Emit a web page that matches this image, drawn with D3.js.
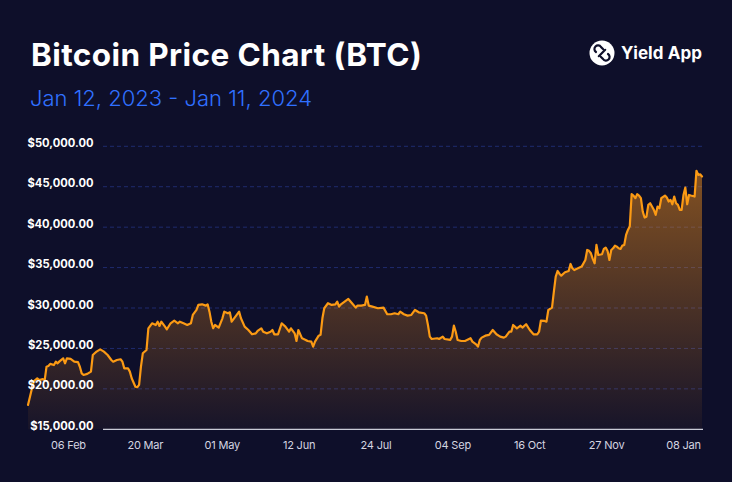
<!DOCTYPE html>
<html>
<head>
<meta charset="utf-8">
<script src="https://cdn.jsdelivr.net/npm/d3@7"></script>
<style>
  html, body { margin: 0; padding: 0; background: #0e0f2a; }
  svg { display: block; }
</style>
</head>
<body>
<div id="chart"></div>
<script>
const dates = [
  "2023-01-12","2023-01-15","2023-01-17","2023-01-18","2023-01-20","2023-01-21","2023-01-22","2023-01-23","2023-01-24","2023-01-26",
  "2023-01-27","2023-01-28","2023-01-29","2023-01-31","2023-02-01","2023-02-02","2023-02-04","2023-02-06","2023-02-08","2023-02-09",
  "2023-02-10","2023-02-11","2023-02-13","2023-02-15","2023-02-16","2023-02-17","2023-02-18","2023-02-20","2023-02-22","2023-02-24",
  "2023-02-26","2023-02-27","2023-03-01","2023-03-03","2023-03-04","2023-03-05","2023-03-07","2023-03-08","2023-03-09","2023-03-11",
  "2023-03-12","2023-03-13","2023-03-14","2023-03-15","2023-03-17","2023-03-18","2023-03-20","2023-03-22","2023-03-23","2023-03-24",
  "2023-03-25","2023-03-27","2023-03-28","2023-03-30","2023-04-01","2023-04-03","2023-04-04","2023-04-06","2023-04-08","2023-04-10",
  "2023-04-11","2023-04-13","2023-04-14","2023-04-16","2023-04-18","2023-04-19","2023-04-20","2023-04-21","2023-04-22","2023-04-23",
  "2023-04-25","2023-04-27","2023-04-28","2023-04-30","2023-05-01","2023-05-02","2023-05-04","2023-05-06","2023-05-07","2023-05-09",
  "2023-05-11","2023-05-13","2023-05-15","2023-05-16","2023-05-18","2023-05-19","2023-05-21","2023-05-23","2023-05-24","2023-05-25",
  "2023-05-27","2023-05-29","2023-05-31","2023-06-02","2023-06-03","2023-06-05","2023-06-06","2023-06-07","2023-06-09","2023-06-11",
  "2023-06-12","2023-06-14","2023-06-15","2023-06-16","2023-06-18","2023-06-19","2023-06-20","2023-06-21","2023-06-23","2023-06-25",
  "2023-06-27","2023-06-28","2023-06-29","2023-06-30","2023-07-04","2023-07-06","2023-07-08","2023-07-09","2023-07-11","2023-07-13",
  "2023-07-14","2023-07-15","2023-07-17","2023-07-20","2023-07-23","2023-07-25","2023-07-27","2023-07-29","2023-07-31","2023-08-01",
  "2023-08-03","2023-08-05","2023-08-07","2023-08-09","2023-08-11","2023-08-14","2023-08-15","2023-08-16","2023-08-17","2023-08-18",
  "2023-08-21","2023-08-22","2023-08-24","2023-08-25","2023-08-28","2023-08-29","2023-08-30","2023-08-31","2023-09-01","2023-09-03",
  "2023-09-05","2023-09-08","2023-09-09","2023-09-11","2023-09-12","2023-09-13","2023-09-14","2023-09-16","2023-09-18","2023-09-20",
  "2023-09-22","2023-09-24","2023-09-26","2023-09-27","2023-09-29","2023-09-30","2023-10-01","2023-10-03","2023-10-05","2023-10-06",
  "2023-10-08","2023-10-10","2023-10-12","2023-10-14","2023-10-15","2023-10-16","2023-10-18","2023-10-19","2023-10-20","2023-10-22",
  "2023-10-23","2023-10-24","2023-10-25","2023-10-26","2023-10-27","2023-10-29","2023-10-31","2023-11-01","2023-11-02","2023-11-03",
  "2023-11-05","2023-11-07","2023-11-09","2023-11-10","2023-11-11","2023-11-12","2023-11-13","2023-11-14","2023-11-15","2023-11-16",
  "2023-11-18","2023-11-19","2023-11-20","2023-11-21","2023-11-22","2023-11-23","2023-11-24","2023-11-25","2023-11-26","2023-11-27",
  "2023-11-28","2023-11-29","2023-11-30","2023-12-01","2023-12-02","2023-12-03","2023-12-04","2023-12-05","2023-12-06","2023-12-07",
  "2023-12-08","2023-12-09","2023-12-10","2023-12-11","2023-12-12","2023-12-13","2023-12-14","2023-12-15","2023-12-16","2023-12-17",
  "2023-12-18","2023-12-19","2023-12-20","2023-12-22","2023-12-23","2023-12-24","2023-12-25","2023-12-26","2023-12-27","2023-12-28",
  "2023-12-29","2023-12-30","2023-12-31","2024-01-01","2024-01-02","2024-01-03","2024-01-04","2024-01-05","2024-01-07","2024-01-08",
  "2024-01-09","2024-01-10","2024-01-11"
];
const prices = [
  18010,20890,21300,21100,21200,21050,22740,22830,23090,22950,
  23360,23160,23400,23780,23160,23780,23700,23370,23300,22740,
  21920,21720,21850,22130,24190,24400,24600,24890,24600,24190,
  23570,23360,23570,23660,23360,22540,22540,22130,21310,20270,
  20200,20490,22740,24400,24810,27490,28110,27900,28310,27780,
  28310,27700,27370,28110,28430,28110,28310,28110,27900,28110,
  29140,29760,30380,30460,30300,30460,29550,28310,27490,27900,
  27580,28730,29550,29350,29470,28310,28930,29550,28730,27700,
  27280,26750,26870,27160,27490,27070,26870,27070,27280,26750,
  26750,28110,27700,27070,27490,26870,25920,27280,26250,26050,
  25920,25840,25220,25840,26580,26680,28730,29970,30590,30380,
  30460,30790,30170,30460,31120,30590,30050,30300,30300,30380,
  31410,30300,30170,29970,30050,29230,29230,29350,29230,29550,
  29230,29060,29140,29760,29470,29350,29060,27900,26460,26170,
  26260,26170,26460,26170,26050,26460,27820,27070,26050,25920,
  25920,26260,25840,25510,25220,26050,26340,26580,26670,27280,
  26750,26460,26340,26460,27070,27070,27900,27490,27820,27580,
  28000,27280,26750,26750,27070,28450,28400,28310,29760,30050,
  32030,33880,34580,34250,34000,34420,34580,35450,34910,34700,
  34910,35120,35940,37180,37070,36770,36070,35530,37800,36560,
  36650,37300,37470,37060,35940,37180,37390,37720,37590,37390,
  37300,37720,37800,39040,39660,40100,44080,43910,43580,44080,
  43910,43580,41930,41190,41300,42760,42960,42550,42140,41520,
  42550,42340,43580,43910,43660,43170,43370,42830,43790,42960,
  42750,42140,42140,43990,44900,42830,43980,43910,43790,46970,
  46460,46540,46270
];
const yTicks = [15000, 20000, 25000, 30000, 35000, 40000, 45000, 50000];
const xTickDates = ["2023-02-06","2023-03-20","2023-05-01","2023-06-12","2023-07-24","2023-09-04","2023-10-16","2023-11-27","2024-01-08"];
const xTickLabels = ["06 Feb","20 Mar","01 May","12 Jun","24 Jul","04 Sep","16 Oct","27 Nov","08 Jan"];
const title = "Bitcoin Price Chart (BTC)";
const subtitle = "Jan 12, 2023 - Jan 11, 2024";
const brand = "Yield App";

const W = 732, H = 482;
const parse = d3.utcParse("%Y-%m-%d");
const data = dates.map((d, i) => ({ date: parse(d), value: prices[i] }));
const domain = [parse("2023-01-12"), parse("2024-01-11")];

const x = d3.scaleUtc().domain(domain).range([28, 702]);
const xLab = d3.scaleUtc().domain(domain).range([22.2, 688.5]);
const y = d3.scaleLinear().domain([15000, 50000]).range([429.3, 146.3]);

const svg = d3.select("#chart").append("svg").attr("width", W).attr("height", H);
svg.append("rect").attr("width", W).attr("height", H).attr("fill", "#0e0f2a");

const defs = svg.append("defs");
const grad = defs.append("linearGradient").attr("id", "areaGrad")
  .attr("gradientUnits", "userSpaceOnUse")
  .attr("x1", 0).attr("x2", 0).attr("y1", y(47000)).attr("y2", y(15000));
grad.append("stop").attr("offset", 0).attr("stop-color", "#f7931a").attr("stop-opacity", 0.5);
grad.append("stop").attr("offset", 1).attr("stop-color", "#f7931a").attr("stop-opacity", 0.04);

// title
svg.append("text").attr("x", 31).attr("y", 66)
  .attr("font-family", "Inter, 'Open Sans', sans-serif").attr("font-weight", 700)
  .attr("font-size", 31.5).attr("fill", "#ffffff").attr("letter-spacing", 0.4)
  .text(title);
svg.append("text").attr("x", 30).attr("y", 106)
  .attr("font-family", "Inter, 'Open Sans', sans-serif").attr("font-weight", 300)
  .attr("font-size", 22).attr("fill", "#3070ff").attr("letter-spacing", 0)
  .text(subtitle);

// brand logo
const logo = svg.append("g").attr("transform", "translate(602,53)");
logo.append("circle").attr("r", 12.5).attr("fill", "#ffffff");
logo.append("path")
  .attr("d", "M-6,-1 A3.6,3.6 0 1 1 -1,-6 L1,-4 M6,1 A3.6,3.6 0 1 1 1,6 L-1,4 M-3.2,3.2 L3.2,-3.2")
  .attr("fill", "none").attr("stroke", "#0e0f2a").attr("stroke-width", 2.2).attr("stroke-linecap", "round");
svg.append("text").attr("x", 621).attr("y", 58.5)
  .attr("font-family", "Inter, 'Open Sans', sans-serif").attr("font-weight", 700)
  .attr("font-size", 17).attr("fill", "#ffffff").attr("letter-spacing", 0.1)
  .text(brand);

// gridlines
svg.append("g").selectAll("line").data(yTicks.filter(t => t > 15000)).join("line")
  .attr("x1", 103).attr("x2", 702)
  .attr("y1", d => y(d)).attr("y2", d => y(d))
  .attr("stroke", "#1f2b6e").attr("stroke-width", 1).attr("stroke-dasharray", "4,3");

// area + line
const area = d3.area().x(d => x(d.date)).y0(y(15000)).y1(d => y(d.value)).curve(d3.curveLinear);
const line = d3.line().x(d => x(d.date)).y(d => y(d.value)).curve(d3.curveLinear);
svg.append("path").datum(data).attr("d", area).attr("fill", "url(#areaGrad)");

// baseline
svg.append("line").attr("x1", 103).attr("x2", 703).attr("y1", y(15000)).attr("y2", y(15000))
  .attr("stroke", "#c9cad6").attr("stroke-width", 1.3);

svg.append("path").datum(data).attr("d", line)
  .attr("fill", "none").attr("stroke", "#fb9a14").attr("stroke-width", 2.2)
  .attr("stroke-linejoin", "round").attr("stroke-linecap", "round");

// y labels
const fmt = d3.format("$,.2f");
svg.append("g").selectAll("text").data(yTicks).join("text")
  .attr("x", 93.5).attr("y", d => y(d) + 0.5)
  .attr("text-anchor", "end")
  .attr("font-family", "Inter, 'Open Sans', sans-serif").attr("font-weight", 700)
  .attr("font-size", 11.2).attr("fill", "#ffffff").attr("letter-spacing", 0)
  .text(d => fmt(d));

// x axis
const xAxis = d3.axisBottom(xLab)
  .tickValues(xTickDates.map(parse))
  .tickFormat((d, i) => xTickLabels[i])
  .tickSize(0).tickPadding(0);
const gx = svg.append("g").attr("transform", "translate(0,441)").call(xAxis);
gx.select(".domain").remove();
gx.selectAll("text")
  .attr("font-family", "Inter, 'Open Sans', sans-serif").attr("font-size", 11)
  .attr("fill", "#d4d5e0").attr("letter-spacing", -0.2);
</script>
</body>
</html>
